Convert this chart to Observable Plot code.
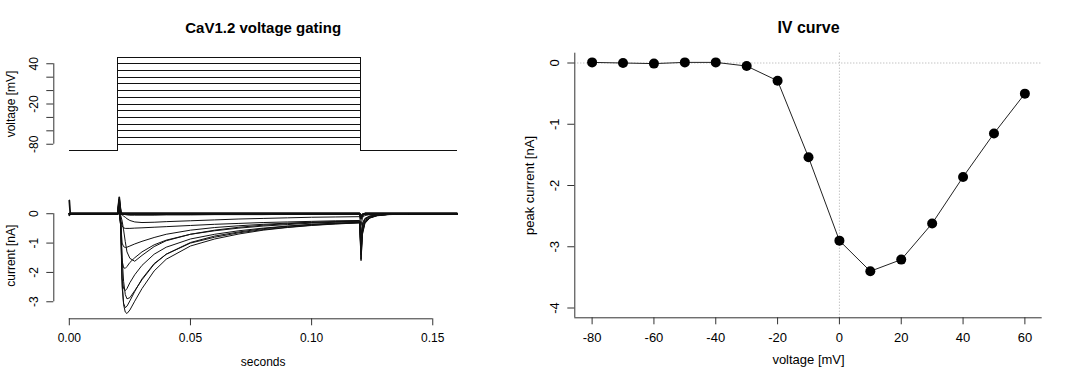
<!DOCTYPE html>
<html><head><meta charset="utf-8">
<script src="https://cdn.jsdelivr.net/npm/d3@7"></script>
<script src="https://cdn.jsdelivr.net/npm/@observablehq/plot@0.6"></script>
<style>
html,body{margin:0;padding:0;background:#fff;}
#wrap{position:relative;width:1072px;height:373px;overflow:hidden;background:#fff;}
</style></head><body><div id="wrap"></div>
<script>
// ---------- texts ----------
const titleLeft = "CaV1.2 voltage gating";
const titleRight = "IV curve";
const labelVoltage = "voltage [mV]";
const labelCurrent = "current [nA]";
const labelSeconds = "seconds";
const labelPeak = "peak current [nA]";

// ---------- voltage protocol ----------
const stepVoltages = [-80, -70, -60, -50, -40, -30, -20, -10, 0, 10, 20, 30, 40, 50];
const holdingVoltage = -90;
const protocolTimes = [0, 0.02, 0.12, 0.16];
const voltTicks = [-80, -60, -40, -20, 0, 20, 40];
const voltTickLabels = [-80, -20, 40];

// ---------- current traces (nA) ----------
const traceTimes = [0, 0.0004, 0.0200, 0.0206, 0.0212, 0.0218, 0.0224, 0.0231, 0.0238, 0.0250,
  0.0270, 0.0300, 0.0350, 0.0400, 0.0500, 0.0600, 0.0700, 0.0800, 0.0900, 0.1000,
  0.1100, 0.1198, 0.1204, 0.1210, 0.1220, 0.1240, 0.1270, 0.1320, 0.1400, 0.1600];
const trace_m80 = [0.45,0,0,0.56,0.05, 0,0,0,0,0, 0,0,0,0,0, 0,0,0,0,0, 0,0,-0.15,-0.04,0, 0,0,0,0,0];
const trace_m70 = [-0.05,0,0,0.48,0.04, 0,0,0,0,0, 0,0,0,0,0, 0,0,0,0,0, 0,0,-0.14,-0.04,0, 0,0,0,0,0];
const trace_m60 = [0,0,0,0.42,0.03, 0,0,0,0,0, 0,0,0,0,0, 0,0,0,0,0, 0,0,-0.13,-0.03,0, 0,0,0,0,0];
const trace_m50 = [0,0,0,0.36,0.02, 0,0,0,0,0, 0,0,0,0,0, 0,0,0,0,0, 0,0,-0.12,-0.03,0, 0,0,0,0,0];
const trace_m40 = [0,0,0,0.30,0.01, 0,0,0,0,0, 0,0,0,0,0, 0,0,0,0,0, 0,0,-0.12,-0.03,0, 0,0,0,0,0];
const trace_m30 = [0,0,0,0.25,0, -0.01,-0.02,-0.03,-0.04,-0.05, -0.05,-0.05,-0.05,-0.04,-0.04, -0.03,-0.03,-0.03,-0.02,-0.02, -0.02,-0.02,-0.2,-0.05,-0.02, -0.01,0,0,0,0];
const trace_m20 = [0,0,0,0.2,-0.01, -0.04,-0.08,-0.12,-0.17,-0.23, -0.28,-0.30,-0.29,-0.27,-0.24, -0.21,-0.18,-0.16,-0.14,-0.12, -0.11,-0.10,-0.4,-0.13,-0.06, -0.03,-0.01,0,0,0];
const trace_m10 = [0,0,0,0.15,-0.05, -0.25,-0.55,-0.95,-1.3,-1.52, -1.62,-1.42,-1.12,-0.92,-0.70, -0.56,-0.46,-0.39,-0.34,-0.30, -0.27,-0.25,-0.75,-0.32,-0.16, -0.08,-0.04,-0.01,0,0];
const trace_0 = [0,0,0,0.1,-0.2, -1.5,-2.3,-2.75,-2.9,-2.86, -2.62,-2.25,-1.72,-1.38,-0.98, -0.76,-0.62,-0.51,-0.43,-0.37, -0.33,-0.30,-1.3,-0.6,-0.3, -0.14,-0.06,-0.02,0,0];
const trace_10 = [0,0,0,0.05,-0.3, -2.3,-3.1,-3.35,-3.40,-3.28, -2.98,-2.55,-1.95,-1.55,-1.1, -0.86,-0.69,-0.56,-0.47,-0.40, -0.35,-0.31,-1.6,-0.7,-0.33, -0.15,-0.07,-0.03,-0.01,0];
const trace_20 = [0,0,0,0.05,-0.4, -2.5,-3.05,-3.2,-3.15,-2.97, -2.65,-2.22,-1.7,-1.38,-1.0, -0.8,-0.65,-0.54,-0.46,-0.39, -0.34,-0.31,-1.55,-0.66,-0.31, -0.14,-0.06,-0.02,0,0];
const trace_30 = [0,0,0,0.05,-0.4, -2.2,-2.55,-2.62,-2.55,-2.35, -2.08,-1.76,-1.38,-1.14,-0.86, -0.7,-0.58,-0.49,-0.42,-0.36, -0.32,-0.29,-1.4,-0.6,-0.28, -0.13,-0.06,-0.02,0,0];
const trace_40 = [0,0,0,0.05,-0.4, -1.6,-1.84,-1.86,-1.8,-1.66, -1.5,-1.3,-1.06,-0.9,-0.7, -0.58,-0.49,-0.42,-0.37,-0.32, -0.29,-0.27,-1.2,-0.5,-0.24, -0.11,-0.05,-0.02,0,0];
const trace_50 = [0,0,0,0.05,-0.3, -1.0,-1.12,-1.15,-1.14,-1.1, -1.03,-0.94,-0.81,-0.7,-0.56, -0.47,-0.41,-0.36,-0.32,-0.29, -0.27,-0.25,-1.0,-0.42,-0.2, -0.09,-0.04,-0.01,0,0];
const trace_60 = [0,0,0,0.05,-0.2, -0.42,-0.48,-0.5,-0.5,-0.5, -0.49,-0.48,-0.46,-0.44,-0.4, -0.36,-0.33,-0.3,-0.28,-0.26, -0.24,-0.23,-0.8,-0.35,-0.17, -0.08,-0.03,-0.01,0,0];
const traceVoltages = [-80, -70, -60, -50, -40, -30, -20, -10, 0, 10, 20, 30, 40, 50, 60];
const traces = [trace_m80, trace_m70, trace_m60, trace_m50, trace_m40, trace_m30, trace_m20, trace_m10,
  trace_0, trace_10, trace_20, trace_30, trace_40, trace_50, trace_60];
const currentTicks = [-3, -2, -1, 0];
const timeTicks = [0, 0.05, 0.10, 0.15];

// ---------- IV curve ----------
const ivVoltages = [-80, -70, -60, -50, -40, -30, -20, -10, 0, 10, 20, 30, 40, 50, 60];
const ivPeakCurrent = [0.01, 0.00, -0.01, 0.01, 0.01, -0.05, -0.29, -1.54, -2.90, -3.40, -3.21, -2.62, -1.86, -1.15, -0.50];
const ivXTicks = [-80, -60, -40, -20, 0, 20, 40, 60];
const ivYTicks = [-4, -3, -2, -1, 0];

// ---------- scale domains (R style 4% padding) ----------
const timeDomain = [-0.0064, 0.1664];
const voltDomain = [-95.6, 55.6];
const currentDomain = [-3.58, 0.72];
const ivXDomain = [-85.6, 65.6];
const ivYDomain = [-4.16, 0.16];

const FONT = '"Liberation Sans", Arial, Helvetica, sans-serif';
const leftStyle = {fontFamily: FONT, fontSize: "12px", background: "transparent", overflow: "visible", color: "#000"};
const rightStyle = {fontFamily: FONT, fontSize: "13px", background: "transparent", overflow: "visible", color: "#000"};
const wrap = document.getElementById("wrap");
function place(svg, left, top) {
  svg.style.position = "absolute";
  svg.style.left = left + "px";
  svg.style.top = top + "px";
  svg.style.maxWidth = "none";
  wrap.appendChild(svg);
}
const fmtInt = d => String(d);

// ---------- panel 1: voltage protocol ----------
const protoRows = stepVoltages.flatMap(v => [
  {t: protocolTimes[0], mv: holdingVoltage, s: v},
  {t: protocolTimes[1], mv: holdingVoltage, s: v},
  {t: protocolTimes[1], mv: v, s: v},
  {t: protocolTimes[2], mv: v, s: v},
  {t: protocolTimes[2], mv: holdingVoltage, s: v},
  {t: protocolTimes[3], mv: holdingVoltage, s: v}
]);
const p1 = Plot.plot({
  width: 480, height: 165,
  marginLeft: 53.3, marginRight: 8, marginTop: 52.8, marginBottom: 10.8,
  x: {domain: timeDomain, axis: null, label: null},
  y: {domain: voltDomain, label: null},
  style: leftStyle,
  marks: [
    Plot.line(protoRows, {x: "t", y: "mv", z: "s", stroke: "#111", strokeWidth: 1, clip: true, shapeRendering: "crispEdges"}),
    Plot.ruleX([timeDomain[0]], {y1: () => voltTicks[0], y2: () => voltTicks[voltTicks.length - 1], stroke: "#333"}),
    Plot.axisY(voltTicks, {tickSize: 7, tickPadding: 8.5, tickRotate: -90, label: null, stroke: "#333",
      tickFormat: d => voltTickLabels.includes(d) ? fmtInt(d) : ""}),
    Plot.text([titleLeft], {text: d => d, frameAnchor: "top", dy: -20.5, lineAnchor: "bottom", fontWeight: "bold", fontSize: 15}),
    Plot.text([labelVoltage], {text: d => d, frameAnchor: "left", dx: -38.5, rotate: -90, lineAnchor: "bottom", textAnchor: "middle"})
  ]
});
place(p1, 0, 0);

// ---------- panel 2: current traces ----------
const traceRows = traceVoltages.flatMap((v, k) => traceTimes.map((t, j) => ({t, cur: traces[k][j], v})));
const p2 = Plot.plot({
  width: 480, height: 208,
  marginLeft: 53.3, marginRight: 8, marginTop: 27.1, marginBottom: 54.7,
  x: {domain: timeDomain, label: null},
  y: {domain: currentDomain, label: null},
  style: leftStyle,
  marks: [
    Plot.line(traceRows.filter(d => d.v <= -40), {x: "t", y: "cur", z: "v", stroke: "#111", strokeWidth: 1.8, clip: true}),
    Plot.line(traceRows.filter(d => d.v > -40), {x: "t", y: "cur", z: "v", stroke: "#111", strokeWidth: 1, clip: true}),
    Plot.ruleX([timeDomain[0]], {y1: () => currentTicks[0], y2: () => currentTicks[currentTicks.length - 1], stroke: "#333"}),
    Plot.ruleY([currentDomain[0]], {x1: () => timeTicks[0], x2: () => timeTicks[timeTicks.length - 1], stroke: "#333"}),
    Plot.axisY(currentTicks, {tickSize: 7, tickPadding: 8.5, tickRotate: -90, label: null, stroke: "#333", tickFormat: fmtInt}),
    Plot.axisX(timeTicks, {tickSize: 7, tickPadding: 8, label: null, stroke: "#333", tickFormat: d3.format(".2f")}),
    Plot.text([labelCurrent], {text: d => d, frameAnchor: "left", dx: -38.5, rotate: -90, lineAnchor: "bottom", textAnchor: "middle"}),
    Plot.text([labelSeconds], {text: d => d, frameAnchor: "bottom", dy: 47.5, lineAnchor: "bottom"})
  ]
});
place(p2, 0, 165);

// ---------- panel 3: IV curve ----------
const ivRows = ivVoltages.map((v, k) => ({v, cur: ivPeakCurrent[k]}));
const p3 = Plot.plot({
  width: 592, height: 373,
  marginLeft: 94.3, marginRight: 30.3, marginTop: 52.7, marginBottom: 55.7,
  x: {domain: ivXDomain, label: null},
  y: {domain: ivYDomain, label: null},
  style: rightStyle,
  marks: [
    Plot.ruleY([0], {stroke: "#aaa", strokeDasharray: "1,2"}),
    Plot.ruleX([0], {stroke: "#aaa", strokeDasharray: "1,2"}),
    Plot.line(ivRows, {x: "v", y: "cur", stroke: "#222", strokeWidth: 1}),
    Plot.dot(ivRows, {x: "v", y: "cur", r: 5, fill: "#000", stroke: null}),
    Plot.ruleX([ivXDomain[0]], {stroke: "#333"}),
    Plot.ruleY([ivYDomain[0]], {stroke: "#333"}),
    Plot.axisY(ivYTicks, {tickSize: 7, tickPadding: 9, tickRotate: -90, label: null, stroke: "#333", tickFormat: fmtInt}),
    Plot.axisX(ivXTicks, {tickSize: 7, tickPadding: 7.5, label: null, stroke: "#333", tickFormat: fmtInt}),
    Plot.text([titleRight], {text: d => d, frameAnchor: "top", dy: -20.5, lineAnchor: "bottom", fontWeight: "bold", fontSize: 16}),
    Plot.text([labelPeak], {text: d => d, frameAnchor: "left", dx: -40.5, rotate: -90, lineAnchor: "bottom", textAnchor: "middle"}),
    Plot.text([labelVoltage], {text: d => d, frameAnchor: "bottom", dy: 46.5, lineAnchor: "bottom"})
  ]
});
place(p3, 480, 0);
</script></body></html>
